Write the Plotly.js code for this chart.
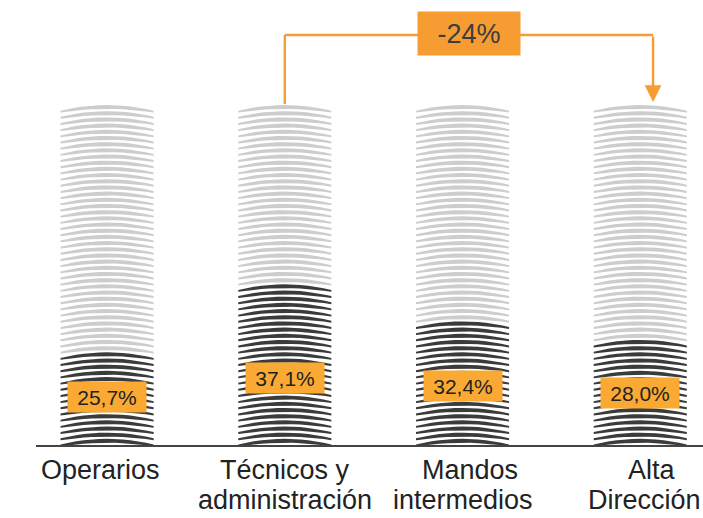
<!DOCTYPE html>
<html>
<head>
<meta charset="utf-8">
<script src="https://cdn.plot.ly/plotly-3.0.1.min.js"></script>
<style>
html,body{margin:0;padding:0;background:#fff;}
#chart{width:703px;height:518px;}
</style>
</head>
<body>
<div id="chart"></div>
<script>
// ---- data ----
const categories = ['Operarios', 'Técnicos y\nadministración', 'Mandos\nintermedios', 'Alta\nDirección'];
const pctValues = [25.7, 37.1, 32.4, 28.0];          // printed labels (%)
const darkHeight = [26.5, 47.6, 35.6, 31.8];          // dark part of each stack as drawn (% of stack)
const totalHeight = [100, 100, 100, 100];              // full stack height
const changeLabel = '-24%';                            // Técnicos -> Alta Dirección
const changeFrom = 1, changeTo = 3;

// ---- style ----
const FONT = 'Liberation Sans, Arial, Helvetica, sans-serif';
const DARK = '#3b3b3b', LIGHT = '#cdcdcd';
const ORANGE = '#f79b33', LABEL_ORANGE = '#faa933';
const N_STRIPES = 55;
const HALF_W = 0.262;       // half width of a stack in category units
const THICK_MID = 1.15, THICK_END = 0.55, SAG = 1.05, NPTS = 13;
const LABEL_XSHIFT = [[-7], [0, 0], [7, 0], [12, 4]];  // px nudges of category text lines

function stripePolys(stackIdx) {
  const dark = {x: [], y: []}, light = {x: [], y: []};
  const total = totalHeight[stackIdx];
  const period = total / N_STRIPES;
  for (let k = 0; k < N_STRIPES; k++) {
    const b = k * period + period * 0.2;
    const tgt = ((k + 0.5) * period < darkHeight[stackIdx]) ? dark : light;
    for (let j = 0; j < NPTS; j++) {
      const u = -1 + 2 * j / (NPTS - 1);
      tgt.x.push(stackIdx + u * HALF_W);
      tgt.y.push(b + THICK_MID - (SAG + THICK_MID - THICK_END) * u * u);
    }
    for (let j = NPTS - 1; j >= 0; j--) {
      const u = -1 + 2 * j / (NPTS - 1);
      tgt.x.push(stackIdx + u * HALF_W);
      tgt.y.push(b - SAG * u * u);
    }
    tgt.x.push(null); tgt.y.push(null);
  }
  return {dark, light};
}

const dx = [], dy = [], lx = [], ly = [];
categories.forEach((c, i) => {
  const p = stripePolys(i);
  dx.push(...p.dark.x); dy.push(...p.dark.y);
  lx.push(...p.light.x); ly.push(...p.light.y);
});

const traces = [
  {x: lx, y: ly, type: 'scatter', mode: 'lines', fill: 'toself', fillcolor: LIGHT,
   line: {width: 0, color: LIGHT}, hoverinfo: 'skip', showlegend: false},
  {x: dx, y: dy, type: 'scatter', mode: 'lines', fill: 'toself', fillcolor: DARK,
   line: {width: 0, color: DARK}, hoverinfo: 'skip', showlegend: false}
];

const annotations = [];
// category labels (two lines, tight spacing)
categories.forEach((c, i) => {
  c.split('\n').forEach((line, li) => {
    annotations.push({x: i, xref: 'x', y: 0, yref: 'paper', yanchor: 'middle', xanchor: 'center',
      xshift: LABEL_XSHIFT[i][li], yshift: -25 - li * 30, text: line, showarrow: false,
      font: {family: FONT, size: 27, color: '#222'}});
  });
});
// percentage labels
pctValues.forEach((v, i) => {
  annotations.push({x: i, y: v / 2 + 1, xref: 'x', yref: 'y', showarrow: false,
    text: v.toFixed(1).replace('.', ',') + '%', bgcolor: LABEL_ORANGE, width: 78, height: 30,
    borderpad: 0, font: {family: FONT, size: 21, color: '#222'}, xanchor: 'center', yanchor: 'middle'});
});

// change bracket
const bracketY = 120.3;
const arrowX = changeTo + 0.072;
const midX = (changeFrom + arrowX) / 2;
annotations.push({x: midX, y: bracketY + 0.4, xref: 'x', yref: 'y', showarrow: false, text: changeLabel,
  bgcolor: ORANGE, width: 102, height: 43, borderpad: 0,
  font: {family: FONT, size: 27, color: '#3d3d3d'}, xanchor: 'center', yanchor: 'middle'});
annotations.push({x: arrowX, y: totalHeight[changeTo] + 0.6, ax: arrowX, ay: bracketY,
  xref: 'x', yref: 'y', axref: 'x', ayref: 'y', text: '', showarrow: true,
  arrowhead: 2, arrowsize: 1.4, arrowwidth: 2.4, arrowcolor: ORANGE, standoff: 0, startstandoff: 0});

const shapes = [
  {type: 'line', xref: 'x', yref: 'y', x0: changeFrom, x1: changeFrom, y0: totalHeight[changeFrom], y1: bracketY,
   line: {color: ORANGE, width: 2.4}},
  {type: 'line', xref: 'x', yref: 'y', x0: changeFrom, x1: arrowX, y0: bracketY, y1: bracketY,
   line: {color: ORANGE, width: 2.4}, layer: 'below'}
];

const layout = {
  width: 703, height: 518,
  margin: {l: 36, r: 0, t: 0, b: 73, pad: 0},
  paper_bgcolor: '#fff', plot_bgcolor: '#fff',
  showlegend: false,
  xaxis: {range: [-0.4, 3.353], showgrid: false, zeroline: false, showticklabels: false,
          ticks: '', showline: true, linecolor: '#444', linewidth: 2, fixedrange: true},
  yaxis: {range: [-0.294, 130.59], visible: false, fixedrange: true},
  annotations: annotations,
  shapes: shapes,
  font: {family: FONT}
};

Plotly.newPlot('chart', traces, layout, {staticPlot: true, displayModeBar: false});
</script>
</body>
</html>
